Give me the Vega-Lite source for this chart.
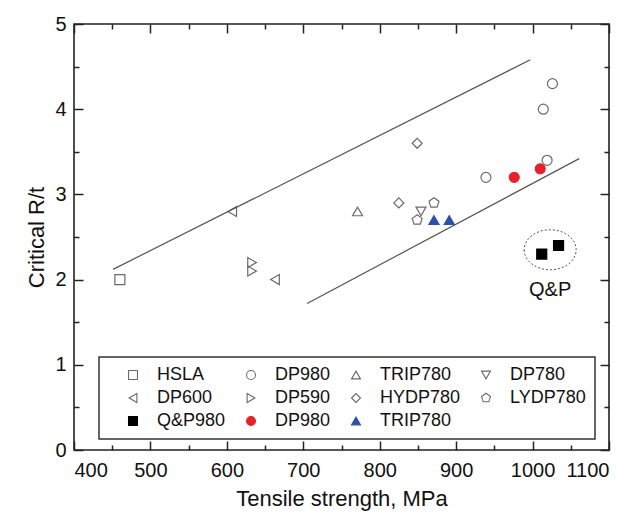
{
  "$schema": "https://vega.github.io/schema/vega-lite/v6.json",
  "width": 535,
  "height": 426,
  "autosize": "none",
  "padding": {"left": 74, "top": 24, "right": 24, "bottom": 66},
  "background": "white",
  "config": {
    "view": {"stroke": "#222", "strokeWidth": 1.6},
    "font": "Liberation Sans",
    "axis": {"grid": false, "domain": false, "tickColor": "#222", "tickWidth": 1.5, "labelColor": "#111", "titleColor": "#111", "labelFont": "Liberation Sans", "titleFont": "Liberation Sans", "titleFontWeight": "normal", "labelFontSize": 20, "titleFontSize": 22},
    "legend": {"orient": "none", "legendX": 25, "legendY": 333, "columns": 4, "direction": "horizontal", "strokeColor": "#333", "strokeWidth": 1.5, "padding": 9, "symbolOffset": 16, "labelFont": "Liberation Sans", "labelFontSize": 18, "labelColor": "#111", "rowPadding": 5, "columnPadding": -6, "labelOffset": 15, "symbolSize": 80, "symbolStrokeWidth": 1.1, "fillColor": "white"}
  },
  "resolve": {"axis": {"x": "independent", "y": "independent"}},
  "layer": [
    {
      "data": {"values": [
        {"series": "HSLA", "ts": 460, "rt": 2.0},
        {"series": "DP600", "ts": 607, "rt": 2.8},
        {"series": "DP600", "ts": 663, "rt": 2.0},
        {"series": "DP590", "ts": 633, "rt": 2.2},
        {"series": "DP590", "ts": 633, "rt": 2.1},
        {"series": "TRIP780", "ts": 771, "rt": 2.8},
        {"series": "HYDP780", "ts": 849, "rt": 3.6},
        {"series": "HYDP780", "ts": 825, "rt": 2.9},
        {"series": "DP780", "ts": 854, "rt": 2.8},
        {"series": "LYDP780", "ts": 871, "rt": 2.9},
        {"series": "LYDP780", "ts": 849, "rt": 2.7},
        {"series": "DP980", "ts": 1026, "rt": 4.3},
        {"series": "DP980", "ts": 1014, "rt": 4.0},
        {"series": "DP980", "ts": 1019, "rt": 3.4},
        {"series": "DP980", "ts": 939, "rt": 3.2},
        {"series": "DP980b", "ts": 976, "rt": 3.2},
        {"series": "DP980b", "ts": 1010, "rt": 3.3},
        {"series": "TRIP780b", "ts": 871, "rt": 2.7},
        {"series": "TRIP780b", "ts": 891, "rt": 2.7},
        {"series": "Q&P980", "ts": 1012, "rt": 2.3},
        {"series": "Q&P980", "ts": 1034, "rt": 2.4}
      ]},
      "mark": {"type": "point", "size": 100, "strokeWidth": 1.2, "opacity": 1},
      "encoding": {
        "x": {"field": "ts", "type": "quantitative", "scale": {"domain": [400, 1100], "nice": false, "zero": false},
              "axis": {"orient": "bottom", "values": [400, 500, 600, 700, 800, 900, 1000, 1100], "format": "d", "tickSize": -9, "labelPadding": 19, "title": "Tensile strength, MPa", "titlePadding": 8}},
        "y": {"field": "rt", "type": "quantitative", "scale": {"domain": [0, 5], "nice": false, "zero": false},
              "axis": {"orient": "left", "values": [0, 1, 2, 3, 4, 5], "format": "d", "tickSize": -9, "labelPadding": 17, "title": "Critical R/t", "titlePadding": 6}},
        "shape": {"field": "series", "type": "nominal", "title": null,
                  "scale": {"domain": ["HSLA", "DP980", "TRIP780", "DP780", "DP600", "DP590", "HYDP780", "LYDP780", "Q&P980", "DP980b", "TRIP780b"],
                            "range": ["square", "circle", "triangle-up", "triangle-down", "triangle-left", "triangle-right", "diamond", "M0,-1.05L1,-0.32L0.62,0.85L-0.62,0.85L-1,-0.32Z", "square", "circle", "triangle-up"]},
                  "legend": {"labelExpr": "datum.label == 'DP980b' ? 'DP980' : (datum.label == 'TRIP780b' ? 'TRIP780' : datum.label)"}},
        "stroke": {"field": "series", "type": "nominal", "title": null,
                   "scale": {"domain": ["HSLA", "DP980", "TRIP780", "DP780", "DP600", "DP590", "HYDP780", "LYDP780", "Q&P980", "DP980b", "TRIP780b"],
                             "range": ["#6a6a6a", "#6a6a6a", "#6a6a6a", "#6a6a6a", "#6a6a6a", "#6a6a6a", "#6a6a6a", "#6a6a6a", "#000000", "#e8202a", "#2f4fa8"]},
                   "legend": {"labelExpr": "datum.label == 'DP980b' ? 'DP980' : (datum.label == 'TRIP780b' ? 'TRIP780' : datum.label)"}},
        "fill": {"field": "series", "type": "nominal", "title": null,
                 "scale": {"domain": ["HSLA", "DP980", "TRIP780", "DP780", "DP600", "DP590", "HYDP780", "LYDP780", "Q&P980", "DP980b", "TRIP780b"],
                           "range": ["transparent", "transparent", "transparent", "transparent", "transparent", "transparent", "transparent", "transparent", "#000000", "#e8202a", "#2f4fa8"]},
                 "legend": {"labelExpr": "datum.label == 'DP980b' ? 'DP980' : (datum.label == 'TRIP780b' ? 'TRIP780' : datum.label)"}}
      }
    },
    {
      "data": {"values": [
        {"line": "upper", "ts": 451, "rt": 2.12},
        {"line": "upper", "ts": 997, "rt": 4.58},
        {"line": "lower", "ts": 705, "rt": 1.72},
        {"line": "lower", "ts": 1061, "rt": 3.42}
      ]},
      "mark": {"type": "line", "color": "#555", "strokeWidth": 1.2},
      "encoding": {
        "detail": {"field": "line", "type": "nominal"},
        "x": {"field": "ts", "type": "quantitative", "scale": {"domain": [400, 1100], "nice": false, "zero": false},
              "axis": {"orient": "top", "values": [400, 500, 600, 700, 800, 900, 1000, 1100], "tickSize": -9, "labels": false, "title": null}},
        "y": {"field": "rt", "type": "quantitative", "scale": {"domain": [0, 5], "nice": false, "zero": false},
              "axis": {"orient": "right", "values": [0, 1, 2, 3, 4, 5], "tickSize": -9, "labels": false, "title": null}}
      }
    },
    {
      "data": {"values": [{"ts": 1023, "rt": 2.35}]},
      "mark": {"type": "point", "shape": "M-1.3,0A1.3,1,0,1,0,1.3,0A1.3,1,0,1,0,-1.3,0Z", "size": 1600, "filled": false, "stroke": "#555", "strokeWidth": 1, "strokeDash": [2, 2], "opacity": 1},
      "encoding": {
        "x": {"field": "ts", "type": "quantitative", "scale": {"domain": [400, 1100], "nice": false, "zero": false},
              "axis": {"orient": "bottom", "values": [450, 550, 650, 750, 850, 950, 1050], "tickSize": -5, "labels": false, "title": null}},
        "y": {"field": "rt", "type": "quantitative", "scale": {"domain": [0, 5], "nice": false, "zero": false},
              "axis": {"orient": "left", "values": [0.5, 1.5, 2.5, 3.5, 4.5], "tickSize": -5, "labels": false, "title": null}}
      }
    },
    {
      "data": {"values": [{"label": "Q&P", "ts": 1023, "rt": 1.88}]},
      "mark": {"type": "text", "fontSize": 20, "font": "Liberation Sans", "color": "#111"},
      "encoding": {
        "text": {"field": "label"},
        "x": {"field": "ts", "type": "quantitative", "scale": {"domain": [400, 1100], "nice": false, "zero": false},
              "axis": {"orient": "top", "values": [450, 550, 650, 750, 850, 950, 1050], "tickSize": -5, "labels": false, "title": null}},
        "y": {"field": "rt", "type": "quantitative", "scale": {"domain": [0, 5], "nice": false, "zero": false},
              "axis": {"orient": "right", "values": [0.5, 1.5, 2.5, 3.5, 4.5], "tickSize": -5, "labels": false, "title": null}}
      }
    }
  ]
}
